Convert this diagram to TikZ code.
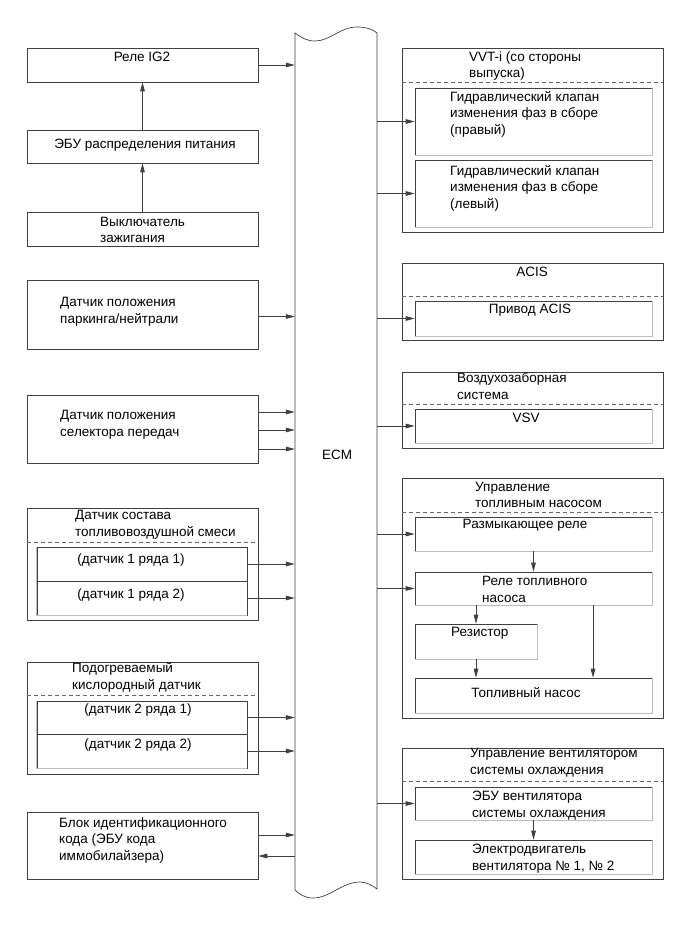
\documentclass[tikz,border=0pt]{standalone}
\usepackage{fontspec}
\setmainfont{Liberation Sans}
\usetikzlibrary{arrows.meta,fit}
\definecolor{lc}{HTML}{404040}
\definecolor{sh}{HTML}{BDBDBD}
\newcommand\rshd[1]{\draw[sh,line width=1.4pt] (#1.north east) -- (#1.south east) -- (#1.south west);}
\newcommand\lshd[1]{\draw[sh,line width=1.4pt] (#1.north west) -- (#1.south west) -- (#1.south east);}
\begin{document}
\begin{tikzpicture}[x=1pt,y=-1pt,
  box/.style={draw=lc,line width=0.7pt,inner sep=0pt},
  dsh/.style={draw=lc!80,line width=0.6pt,dash pattern=on 4pt off 3pt},
  t/.style={inner sep=0pt,font=\fontsize{13.5}{16.5}\selectfont,align=left,text=black},
  arr/.style={draw=lc,line width=0.7pt,-{Triangle[length=9pt,width=4.6pt]}},
  ln/.style={draw=lc,line width=0.7pt}]
\fill[white] (0,0) rectangle (690,952);
\useasboundingbox (0,0) rectangle (690,952);

% ECM column
\node[fit={(295,33) (377,890)},inner sep=0pt] (ecm) {};
\draw[ln] (295,890) -- (295,33)
  .. controls (302,38) and (307,41) .. (315,41)
  .. controls (330,41) and (340,27) .. (357,27)
  .. controls (367,27) and (374,30) .. (377,33)
  -- (377,889)
  .. controls (372,885) and (366,882) .. (360,882)
  .. controls (342,882) and (330,898) .. (313,898)
  .. controls (305,898) and (299,894) .. (295,890);
\node[t] (ecmt) at (337,455) {ECM};

% left column
\node[box,fit={(27,48) (258,82)}] (ig2) {};
\node[t] (ig2t) at (142,57) {Реле IG2};
\node[box,fit={(27,130) (258,163)}] (ebu) {};
\node[t] (ebut) at (145,145) {ЭБУ распределения питания};
\node[box,fit={(27,212) (258,246)}] (ign) {};
\node[t,anchor=west] (ignt) at (100,230) {Выключатель\\зажигания};
\node[box,fit={(27,280) (258,349)}] (park) {};
\node[t,anchor=west] (parkt) at (60,312) {Датчик положения\\паркинга/нейтрали};
\node[box,fit={(27,395) (258,463)}] (sel) {};
\node[t,anchor=west] (selt) at (60,425) {Датчик положения\\селектора передач};

\node[box,fit={(27,508) (258,620)}] (mix) {};
\draw[dsh] (27,542) -- (258,542);
\node[t,anchor=west] (mixt) at (75,525) {Датчик состава\\топливовоздушной смеси};
\node[box,fit={(37,547) (247,581)}] (mix1) {};
\node[box,fit={(37,581) (247,615)}] (mix2) {};
\lshd{mix2}
\draw[sh,line width=1.4pt] (mix1.north west) -- (mix1.south west);
\node[t] (mix1t) at (131,560) {(датчик 1 ряда 1)};
\node[t] (mix2t) at (131,595) {(датчик 1 ряда 2)};

\node[box,fit={(27,662) (258,774)}] (o2) {};
\draw[dsh] (27,695) -- (258,695);
\node[t,anchor=west] (o2t) at (72,677.5) {Подогреваемый\\кислородный датчик};
\node[box,fit={(37,701) (247,734)}] (o2a) {};
\node[box,fit={(37,734) (247,768)}] (o2b) {};
\lshd{o2b}
\draw[sh,line width=1.4pt] (o2a.north west) -- (o2a.south west);
\node[t] (o2at) at (138,710) {(датчик 2 ряда 1)};
\node[t] (o2bt) at (138,745) {(датчик 2 ряда 2)};

\node[box,fit={(27,812) (258,879)}] (imm) {};
\node[t,anchor=west] (immt) at (59,840) {Блок идентификационного\\кода (ЭБУ кода\\иммобилайзера)};

% right column
\node[box,fit={(402,48) (663,232)}] (vvt) {};
\draw[dsh] (402,82) -- (663,82);
\node[t,anchor=west] (vvtt) at (469,66) {VVT-i (со стороны\\выпуска)};
\node[box,fit={(415,88) (652,155)}] (vvt1) {};
\rshd{vvt1}
\node[t,anchor=west] (vvt1t) at (450,114) {Гидравлический клапан\\изменения фаз в сборе\\(правый)};
\node[box,fit={(415,160) (652,227)}] (vvt2) {};
\rshd{vvt2}
\node[t,anchor=west] (vvt2t) at (450,188) {Гидравлический клапан\\изменения фаз в сборе\\(левый)};

\node[box,fit={(402,263) (663,340)}] (acis) {};
\draw[dsh] (402,296) -- (663,296);
\node[t] (acist) at (532,272) {ACIS};
\node[box,fit={(415,301) (652,336)}] (acis1) {};
\rshd{acis1}
\node[t] (acis1t) at (530,310) {Привод ACIS};

\node[box,fit={(402,372) (663,448)}] (air) {};
\draw[dsh] (402,404) -- (663,404);
\node[t,anchor=west] (airt) at (457,386) {Воздухозаборная\\система};
\node[box,fit={(415,409) (652,443)}] (air1) {};
\rshd{air1}
\node[t] (air1t) at (526,418) {VSV};

\node[box,fit={(402,478) (663,718)}] (fuel) {};
\draw[dsh] (402,512) -- (663,512);
\node[t,anchor=west] (fuelt) at (475,495) {Управление\\топливным насосом};
\node[box,fit={(415,517) (652,551)}] (razm) {};
\rshd{razm}
\node[t] (razmt) at (525,525) {Размыкающее реле};
\node[box,fit={(415,572) (652,605)}] (rele) {};
\rshd{rele}
\node[t,anchor=west] (relet) at (482,589.5) {Реле топливного\\насоса};
\node[box,fit={(415,624) (537,659)}] (res) {};
\rshd{res}
\node[t,anchor=west] (rest) at (451,633) {Резистор};
\node[box,fit={(415,678) (652,713)}] (pump) {};
\rshd{pump}
\node[t] (pumpt) at (526,693) {Топливный насос};

\node[box,fit={(402,748) (663,879)}] (fan) {};
\draw[dsh] (402,781) -- (663,781);
\node[t,anchor=west] (fant) at (470,762.5) {Управление вентилятором\\системы охлаждения};
\node[box,fit={(415,787) (652,820)}] (fan1) {};
\rshd{fan1}
\node[t,anchor=west] (fan1t) at (472,805.5) {ЭБУ вентилятора\\системы охлаждения};
\node[box,fit={(415,840) (652,874)}] (fan2) {};
\rshd{fan2}
\node[t,anchor=west] (fan2t) at (472,858.5) {Электродвигатель\\вентилятора № 1, № 2};

% connectors, left
\draw[arr] (ig2.east) -- (ig2.east -| ecm.west);
\draw[arr] (ebu.north) -- (ig2.south);
\draw[arr] (ign.north) -- (ebu.south);
\draw[arr] ([yshift=-2pt]park.east) coordinate (pk) -- (pk -| ecm.west);
\foreach \s in {17,-1,-20}
  \draw[arr] ([yshift=\s pt]sel.east) coordinate (sk) -- (sk -| ecm.west);
\draw[arr] (mix1.east) -- (mix1.east -| ecm.west);
\draw[arr] (mix2.east) -- (mix2.east -| ecm.west);
\draw[arr] (o2a.east) -- (o2a.east -| ecm.west);
\draw[arr] (o2b.east) -- (o2b.east -| ecm.west);
\draw[arr] ([yshift=10.5pt]imm.east) coordinate (ik) -- (ik -| ecm.west);
\draw[arr] ([yshift=-10.5pt]imm.east -| ecm.west) coordinate (ij) -- (ij -| imm.east);

% connectors, right
\foreach \n in {vvt1,vvt2,acis1,air1,razm,rele,fan1}
  \draw[arr] (\n.west -| ecm.east) -- (\n.west);
\draw[arr] (razm.south) -- (rele.north);
\draw[arr] (rele.south -| res.north) -- (res.north);
\draw[arr] (res.south) -- (pump.north -| res.south);
\draw[arr] ([xshift=59.5pt]rele.south) coordinate (rk) -- (rk |- pump.north);
\draw[arr] (fan1.south) -- (fan2.north);
\end{tikzpicture}
\end{document}
